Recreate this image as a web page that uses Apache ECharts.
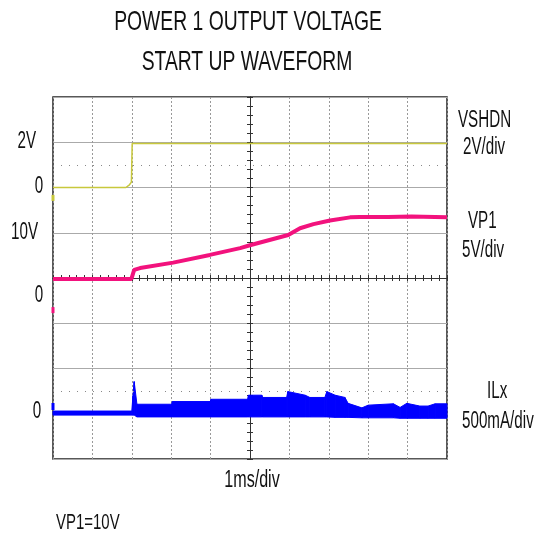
<!DOCTYPE html>
<html lang="en">
  <head>
    <meta charset="UTF-8" />
    <title>Power 1 output voltage start up waveform</title>
    <script src="https://cdn.jsdelivr.net/npm/echarts@6/dist/echarts.min.js"></script>
  </head>
  <body style="margin: 0; background: #fff">
    <div id="main" style="width: 544px; height: 535px"></div>

    <script>
      const myChart = echarts.init(document.getElementById("main"));

      // scope screen: x in ms from screen centre (1ms/div), y in divisions from centre
      const vshdnT = [-5, -3.15, -3.06, -3.01, -2.99, 5];
      const vshdnY = [2.0, 2.0, 2.06, 2.12, 2.97, 2.97];

      const vp1T = [-5, -3.01, -2.94, -2.79, -1.95, -1.02, -0.25, 0.02, 0.97, 1.27, 1.61, 2.03, 2.54, 2.79, 3.5, 4.1, 5];
      const vp1Y = [-0.02, -0.02, 0.18, 0.22, 0.34, 0.51, 0.66, 0.73, 0.95, 1.1, 1.19, 1.27, 1.34, 1.35, 1.35, 1.36, 1.34];

      // inductor current is a noisy band: upper and lower envelope
      const ilxT = [-5, -3.0, -2.97, -2.94, -2.87, -1.99, -1.97, -1.01, -0.99, -0.06, -0.04, 0.3, 0.32, 0.93, 0.96, 1.4, 1.52, 1.9, 1.95, 2.16, 2.41, 2.49, 2.84, 3.0, 3.64, 3.81, 3.98, 4.31, 4.52, 4.7, 5];
      const ilxHigh = [-2.94, -2.94, -2.6, -2.29, -2.79, -2.79, -2.73, -2.73, -2.68, -2.68, -2.59, -2.59, -2.64, -2.64, -2.51, -2.59, -2.64, -2.64, -2.51, -2.59, -2.64, -2.77, -2.87, -2.81, -2.78, -2.86, -2.77, -2.83, -2.83, -2.78, -2.78];
      const ilxLow = [-3.03, -3.03, -3.03, -3.03, -3.07, -3.07, -3.07, -3.07, -3.07, -3.07, -3.07, -3.07, -3.07, -3.07, -3.07, -3.07, -3.07, -3.07, -3.07, -3.08, -3.08, -3.08, -3.09, -3.09, -3.09, -3.1, -3.1, -3.1, -3.1, -3.1, -3.1];

      const titleLines = ["POWER 1 OUTPUT VOLTAGE", "START UP WAVEFORM"];
      const leftMarks = ["2V", "0", "10V", "0", "0"];
      const traceNames = ["VSHDN", "VP1", "ILx"];
      const traceScales = ["2V/div", "5V/div", "500mA/div"];
      const timeScale = "1ms/div";
      const note = "VP1=10V";

      const FONT = '"Liberation Sans", Arial, sans-serif';
      const YELLOW = "#c8c83c";
      const PINK = "#f2127d";
      const BLUE = "#0000ff";

      const zip = (a, b) => a.map((v, i) => [v, b[i]]);

      // narrow, tall lettering like the scope printout
      function text(str, x, y, size, align, sx) {
        return {
          type: "text",
          x: x,
          y: y,
          scaleX: sx || 0.66,
          style: {
            text: str,
            font: size + "px " + FONT,
            fill: "#111",
            align: align || "left",
            verticalAlign: "middle",
          },
        };
      }

      const centreAxis = (pos, min, max) => ({
        type: "value",
        position: pos,
        min: min,
        max: max,
        interval: 1,
        axisLine: { onZero: true, lineStyle: { color: "#333", width: 1 } },
        axisTick: { show: true, length: 3, lineStyle: { color: "#333" } },
        minorTick: { show: true, splitNumber: 5, length: 3, lineStyle: { color: "#333" } },
        axisLabel: { show: false },
        splitLine: { show: false },
      });

      const ilxBand = ilxT.slice(0, -1).map((t, i) => [
        t, ilxLow[i], ilxHigh[i], ilxT[i + 1], ilxLow[i + 1], ilxHigh[i + 1],
      ]);

      let options = {
        animation: false,
        backgroundColor: "#fff",
        grid: {
          left: 53,
          top: 97,
          width: 394,
          height: 362,
          show: true,
          borderColor: "#222",
          borderWidth: 1.5,
        },
        xAxis: [
          Object.assign(centreAxis("bottom", -5, 5), {
            splitLine: { show: true, lineStyle: { color: "#999", type: [2, 2] } },
          }),
          centreAxis("top", -5, 5),
        ],
        yAxis: [
          Object.assign(centreAxis("left", -4, 4), {
            splitLine: { show: true, lineStyle: { color: "#aaa", width: 1 } },
          }),
          centreAxis("right", -4, 4),
        ],
        series: [
          {
            name: traceNames[0],
            type: "line",
            data: zip(vshdnT, vshdnY),
            symbol: "none",
            lineStyle: { color: YELLOW, width: 1.5 },
            markLine: {
              silent: true,
              symbol: "none",
              label: { show: false },
              lineStyle: { color: "#888", type: [1, 7], width: 1 },
              data: [{ yAxis: 2.5 }, { yAxis: -2.5 }],
            },
            markPoint: {
              symbol: "rect",
              symbolSize: [3, 6],
              label: { show: false },
              itemStyle: { color: YELLOW },
              data: [{ coord: [-5, 1.77] }],
            },
            z: 3,
          },
          {
            name: traceNames[1],
            type: "line",
            data: zip(vp1T, vp1Y),
            symbol: "none",
            lineStyle: { color: PINK, width: 4 },
            markPoint: {
              symbol: "rect",
              symbolSize: [3, 6],
              label: { show: false },
              itemStyle: { color: PINK },
              data: [{ coord: [-5, -0.71] }],
            },
            z: 4,
          },
          {
            name: traceNames[2],
            type: "custom",
            data: ilxBand,
            encode: { x: [0, 3], y: [1, 2, 4, 5] },
            renderItem: (params, api) => ({
              type: "polygon",
              shape: {
                points: [
                  api.coord([api.value(0), api.value(2)]),
                  api.coord([api.value(3), api.value(5)]),
                  api.coord([api.value(3), api.value(4)]),
                  api.coord([api.value(0), api.value(1)]),
                ],
              },
              style: { fill: BLUE, stroke: BLUE, lineWidth: 1 },
            }),
            markPoint: {
              symbol: "rect",
              symbolSize: [3, 7],
              label: { show: false },
              itemStyle: { color: BLUE },
              data: [{ coord: [-5, -2.84] }],
            },
            z: 4,
          },
        ],
        graphic: [
          text(titleLines[0], 248, 22, 28, "center", 0.69),
          text(titleLines[1], 247, 62, 28, "center", 0.69),
          text(leftMarks[0], 36, 142, 23, "right"),
          text(leftMarks[1], 39, 187, 23, "center"),
          text(leftMarks[2], 38, 233, 23, "right"),
          text(leftMarks[3], 39, 296, 23, "center"),
          text(leftMarks[4], 37, 412, 23, "center"),
          text(traceNames[0], 458, 121, 23),
          text(traceScales[0], 463, 148, 23),
          text(traceNames[1], 468, 222, 23),
          text(traceScales[1], 462, 251, 23),
          text(traceNames[2], 487, 392, 23),
          text(traceScales[2], 462, 422, 23),
          text(timeScale, 252, 481, 23, "center", 0.7),
          text(note, 56, 523, 22, "left", 0.68),
        ],
      };

      myChart.setOption(options);
    </script>
  </body>
</html>
